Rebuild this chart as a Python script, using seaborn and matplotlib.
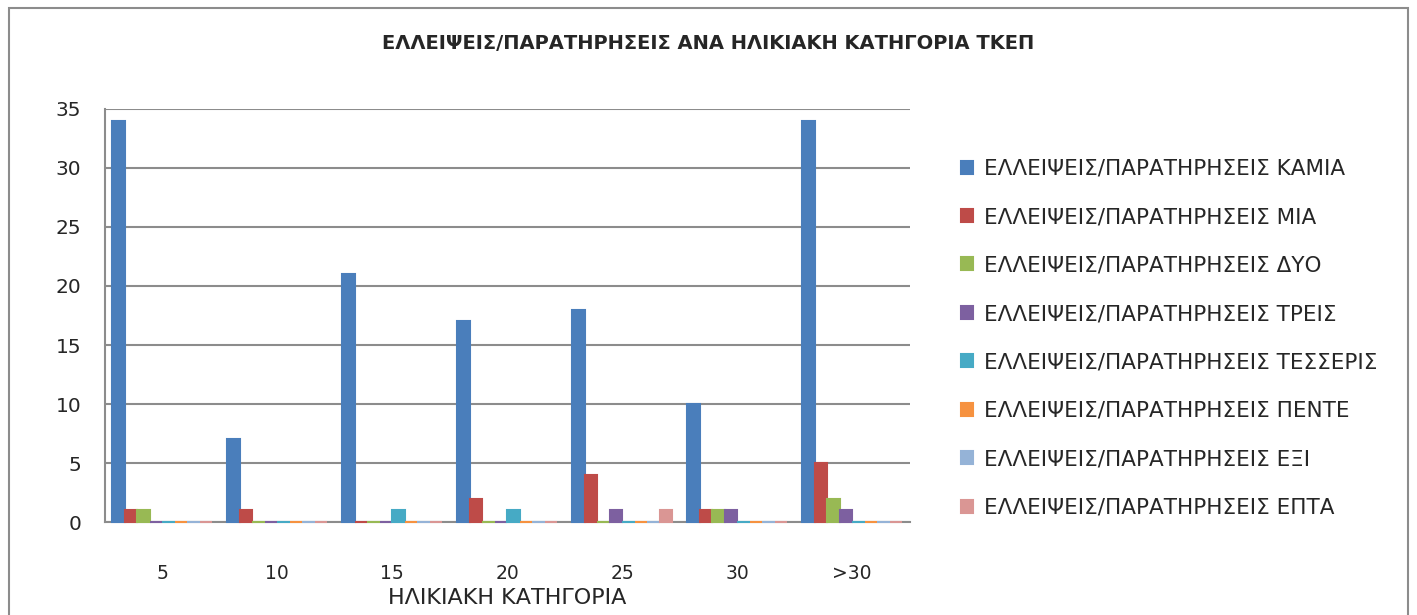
import numpy as np
import pandas as pd
import matplotlib
matplotlib.use('Agg')
import matplotlib.pyplot as plt
from matplotlib.patches import Rectangle
import seaborn as sns

categories = ['5', '10', '15', '20', '25', '30', '>30']
series_names = [
    'ΕΛΛΕΙΨΕΙΣ/ΠΑΡΑΤΗΡΗΣΕΙΣ ΚΑΜΙΑ',
    'ΕΛΛΕΙΨΕΙΣ/ΠΑΡΑΤΗΡΗΣΕΙΣ ΜΙΑ',
    'ΕΛΛΕΙΨΕΙΣ/ΠΑΡΑΤΗΡΗΣΕΙΣ ΔΥΟ',
    'ΕΛΛΕΙΨΕΙΣ/ΠΑΡΑΤΗΡΗΣΕΙΣ ΤΡΕΙΣ',
    'ΕΛΛΕΙΨΕΙΣ/ΠΑΡΑΤΗΡΗΣΕΙΣ ΤΕΣΣΕΡΙΣ',
    'ΕΛΛΕΙΨΕΙΣ/ΠΑΡΑΤΗΡΗΣΕΙΣ ΠΕΝΤΕ',
    'ΕΛΛΕΙΨΕΙΣ/ΠΑΡΑΤΗΡΗΣΕΙΣ ΕΞΙ',
    'ΕΛΛΕΙΨΕΙΣ/ΠΑΡΑΤΗΡΗΣΕΙΣ ΕΠΤΑ',
]
kamia = [34, 7, 21, 17, 18, 10, 34]
mia = [1, 1, 0, 2, 4, 1, 5]
dyo = [1, 0, 0, 0, 0, 1, 2]
treis = [0, 0, 0, 0, 1, 1, 1]
tesseris = [0, 0, 1, 1, 0, 0, 0]
pente = [0, 0, 0, 0, 0, 0, 0]
exi = [0, 0, 0, 0, 0, 0, 0]
epta = [0, 0, 0, 0, 1, 0, 0]

colors = ['#4A7EBB', '#BE4B48', '#98B954', '#7D60A0',
          '#46AAC5', '#F69240', '#95B3D7', '#DA9694']

all_series = [kamia, mia, dyo, treis, tesseris, pente, exi, epta]
rows = []
for name, vals in zip(series_names, all_series):
    for cat, v in zip(categories, vals):
        rows.append({'cat': cat, 'series': name, 'value': v})
df = pd.DataFrame(rows)

sns.set_style('white')
plt.rcParams['font.family'] = ['DejaVu Sans']

fig = plt.figure(figsize=(14.17, 6.15), dpi=100)
ax = fig.add_axes([0.074, 0.151, 0.568, 0.672])

sns.barplot(data=df, x='cat', y='value', hue='series', order=categories,
            hue_order=series_names, palette=colors, width=0.87,
            saturation=1, ax=ax, legend=True)

# zero-height bars still show as thin slabs
for p in ax.patches:
    p.set_edgecolor(p.get_facecolor())
    p.set_linewidth(1.5)
    p.set_clip_on(False)
    p.set_zorder(3)

ax.set_ylim(0, 35)
ax.set_yticks(range(0, 36, 5))
ax.set_xlim(-0.5, len(categories) - 0.5)
ax.yaxis.grid(True, color='#8c8c8c', linewidth=1.5)
ax.set_axisbelow(True)
for s in ['top', 'right']:
    ax.spines[s].set_visible(False)
for s in ['left', 'bottom']:
    ax.spines[s].set_color('#8c8c8c')
    ax.spines[s].set_linewidth(1.5)
    ax.spines[s].set_zorder(1)
ax.tick_params(axis='y', length=5, color='#8c8c8c', labelsize=14.5, pad=12)
ax.tick_params(axis='x', length=0, labelsize=13.5, pad=30)
ax.set_ylabel('')
ax.set_xlabel('ΗΛΙΚΙΑΚΗ ΚΑΤΗΓΟΡΙΑ', fontsize=16, labelpad=4)

handles, labels = ax.get_legend_handles_labels()
ax.legend(handles, labels, loc='center left', bbox_to_anchor=(1.04, 0.445),
          frameon=False, fontsize=15.5, handlelength=0.55, handleheight=0.55,
          handletextpad=0.5, labelspacing=1.32)

fig.suptitle('ΕΛΛΕΙΨΕΙΣ/ΠΑΡΑΤΗΡΗΣΕΙΣ ΑΝΑ ΗΛΙΚΙΑΚΗ ΚΑΤΗΓΟΡΙΑ ΤΚΕΠ',
             x=0.5, y=0.945, fontsize=14, fontweight='bold')

fig.patches.append(Rectangle((0.006, -0.02), 0.988, 1.007, transform=fig.transFigure,
                             fill=False, edgecolor='#8c8c8c', linewidth=1.5))

plt.savefig('out.png', dpi=100)
